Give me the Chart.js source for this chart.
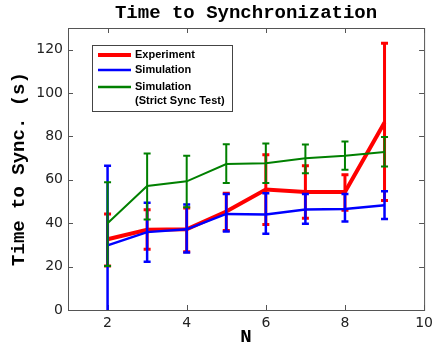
<!DOCTYPE html>
<html>
<head>
<meta charset="utf-8">
<script src="https://cdn.jsdelivr.net/npm/chart.js@4.4.0/dist/chart.umd.min.js"></script>
<style>
  html, body { margin: 0; padding: 0; background: #fff; }
</style>
</head>
<body>
<canvas id="sync-chart" width="438" height="350"></canvas>
<script>
const nValues = [2, 3, 4, 5, 6, 7, 8, 9];
const xTicks = [2, 4, 6, 8, 10];
const yTicks = [0, 20, 40, 60, 80, 100, 120];

const seriesLabels = ["Experiment", "Simulation", "Simulation\n(Strict Sync Test)"];
const seriesColors = ["#ff0000", "#0000ff", "#008000"];

const experimentMean = [32.6, 37.0, 37.2, 45.4, 55.5, 54.4, 54.4, 86.4];
const experimentLow  = [20.3, 28.0, 26.8, 36.7, 39.4, 42.3, 46.0, 50.5];
const experimentHigh = [44.3, 46.2, 47.0, 53.8, 71.6, 66.5, 62.4, 123.0];

const simMean = [29.8, 35.9, 37.2, 44.3, 44.0, 46.3, 46.6, 48.3];
const simLow  = [-7.0, 22.2, 26.5, 36.2, 35.2, 39.8, 40.8, 41.9];
const simHigh = [66.5, 49.4, 48.6, 53.5, 53.8, 53.5, 53.5, 54.7];

const strictMean = [40.0, 57.2, 59.3, 67.3, 67.7, 69.9, 71.1, 72.8];
const strictLow  = [20.3, 41.7, 47.4, 58.6, 58.6, 63.0, 64.7, 66.2];
const strictHigh = [58.9, 72.2, 71.1, 76.4, 76.8, 76.3, 77.7, 79.8];

const monoBold = {family: "'Liberation Mono', 'DejaVu Sans Mono', monospace", size: 19, weight: 'bold'};
const tickFont = {family: "'DejaVu Sans', sans-serif", size: 14};

function points(ys) {
    return nValues.map((n, i) => ({x: n, y: ys[i]}));
}

// error bars, drawn right after each dataset's line so layering stays the same
const errorBars = {
    id: 'errorBars',
    afterDatasetDraw(chart, args) {
        const ds = chart.data.datasets[args.index];
        if (!ds.errLow) return;
        const {ctx, chartArea, scales: {x, y}} = chart;
        ctx.save();
        ctx.beginPath();
        ctx.rect(chartArea.left, chartArea.top, chartArea.width, chartArea.height);
        ctx.clip();
        ctx.strokeStyle = ds.borderColor;
        ctx.lineWidth = ds.errWidth;
        ds.data.forEach((p, i) => {
            const px = x.getPixelForValue(p.x);
            const lo = y.getPixelForValue(ds.errLow[i]);
            const hi = y.getPixelForValue(ds.errHigh[i]);
            ctx.beginPath();
            ctx.moveTo(px, lo); ctx.lineTo(px, hi);
            ctx.moveTo(px - 3.5, lo); ctx.lineTo(px + 3.5, lo);
            ctx.moveTo(px - 3.5, hi); ctx.lineTo(px + 3.5, hi);
            ctx.stroke();
        });
        ctx.restore();
    }
};

// box round the plot with inward ticks on all four sides
const frame = {
    id: 'frame',
    beforeDatasetsDraw(chart) {
        const {ctx, chartArea: a, scales: {x, y}} = chart;
        ctx.save();
        ctx.strokeStyle = '#555';
        ctx.lineWidth = 1;
        ctx.strokeRect(a.left + 0.5, a.top + 0.5, a.width, a.height);
        ctx.beginPath();
        xTicks.forEach(v => {
            const px = Math.round(x.getPixelForValue(v)) + 0.5;
            ctx.moveTo(px, a.bottom); ctx.lineTo(px, a.bottom - 5);
            ctx.moveTo(px, a.top); ctx.lineTo(px, a.top + 5);
        });
        yTicks.forEach(v => {
            const py = Math.round(y.getPixelForValue(v)) + 0.5;
            ctx.moveTo(a.left, py); ctx.lineTo(a.left + 5, py);
            ctx.moveTo(a.right, py); ctx.lineTo(a.right - 5, py);
        });
        ctx.stroke();
        ctx.restore();
    }
};

const boxLegend = {
    id: 'boxLegend',
    afterDraw(chart) {
        const {ctx, chartArea: a} = chart;
        const left = a.left + 24, top = a.top + 17;
        const rowOffsets = [10, 25, 42];
        ctx.save();
        ctx.fillStyle = '#fff';
        ctx.fillRect(left, top, 140, 66);
        ctx.strokeStyle = '#444';
        ctx.lineWidth = 1;
        ctx.strokeRect(left + 0.5, top + 0.5, 140, 66);
        ctx.font = "bold 11px 'Liberation Sans', Arial, sans-serif";
        ctx.textBaseline = 'middle';
        ctx.fillStyle = '#000';
        chart.data.datasets.slice().sort((p, q) => p.legendPos - q.legendPos).forEach((ds, r) => {
            const rowY = top + rowOffsets[r];
            ctx.strokeStyle = ds.borderColor;
            ctx.lineWidth = ds.legendWidth;
            ctx.beginPath();
            ctx.moveTo(left + 6, rowY);
            ctx.lineTo(left + 39, rowY);
            ctx.stroke();
            ds.label.split('\n').forEach((line, k) => {
                ctx.fillText(line, left + 43, rowY + k * 14);
            });
        });
        ctx.restore();
    }
};

const plotTitle = {
    id: 'plotTitle',
    afterDraw(chart) {
        const {ctx, chartArea: a} = chart;
        ctx.save();
        ctx.font = "bold 19px 'Liberation Mono', monospace";
        ctx.fillStyle = '#000';
        ctx.textAlign = 'center';
        ctx.textBaseline = 'alphabetic';
        ctx.fillText('Time to Synchronization', (a.left + a.right) / 2, 18);
        ctx.restore();
    }
};

new Chart(document.getElementById('sync-chart'), {
    type: 'line',
    data: {
        datasets: [
            {
                label: seriesLabels[2],
                data: points(strictMean),
                errLow: strictLow, errHigh: strictHigh, errWidth: 2,
                borderColor: seriesColors[2], borderWidth: 2, legendWidth: 2.5, legendPos: 2,
                pointRadius: 0, tension: 0, order: 0
            },
            {
                label: seriesLabels[1],
                data: points(simMean),
                errLow: simLow, errHigh: simHigh, errWidth: 2.5,
                borderColor: seriesColors[1], borderWidth: 2.5, legendWidth: 2.5, legendPos: 1,
                pointRadius: 0, tension: 0, order: 1
            },
            {
                label: seriesLabels[0],
                data: points(experimentMean),
                errLow: experimentLow, errHigh: experimentHigh, errWidth: 3,
                borderColor: seriesColors[0], borderWidth: 4, legendWidth: 4, legendPos: 0,
                pointRadius: 0, tension: 0, order: 2
            }
        ]
    },
    options: {
        responsive: false,
        animation: false,
        devicePixelRatio: 1,
        layout: {padding: {left: 0, right: 11, top: 28, bottom: 0}},
        plugins: {
            legend: {display: false},
            tooltip: {enabled: false}
        },
        scales: {
            x: {
                type: 'linear',
                min: 1,
                max: 10,
                afterBuildTicks: scale => { scale.ticks = xTicks.map(v => ({value: v})); },
                afterFit: scale => { scale.height = 40; },
                grid: {display: false, drawTicks: false},
                border: {display: false},
                ticks: {font: tickFont, color: '#222', padding: 5, maxRotation: 0},
                title: {display: true, text: 'N', font: monoBold, color: '#000', padding: {top: 0, bottom: 1}}
            },
            y: {
                type: 'linear',
                min: 0,
                max: 130,
                afterBuildTicks: scale => { scale.ticks = yTicks.map(v => ({value: v})); },
                afterFit: scale => { scale.width = 68; },
                grid: {display: false, drawTicks: false},
                border: {display: false},
                ticks: {font: tickFont, color: '#222', padding: 5},
                title: {display: true, text: 'Time to Sync. (s)', font: monoBold, color: '#000', padding: {top: 8, bottom: 0}}
            }
        }
    },
    plugins: [errorBars, frame, boxLegend, plotTitle]
});
</script>
</body>
</html>
